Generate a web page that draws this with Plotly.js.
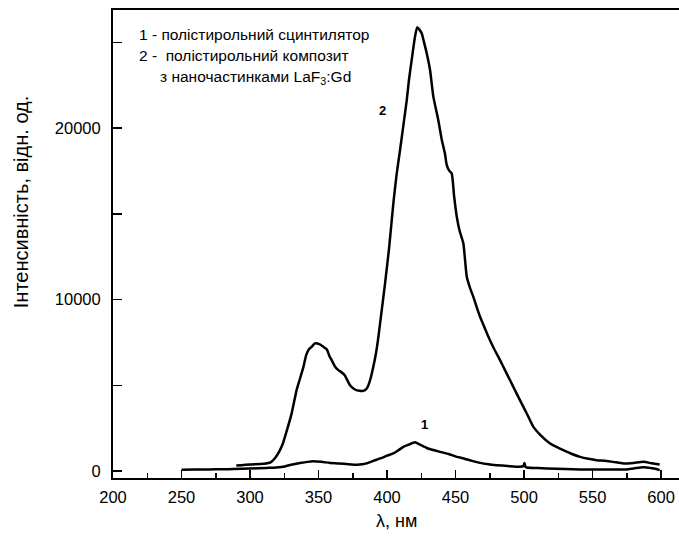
<!DOCTYPE html>
<html>
<head>
<meta charset="utf-8">
<script src="https://cdn.plot.ly/plotly-3.0.1.min.js"></script>
<style>html,body{margin:0;padding:0;background:#fff;}#chart{width:679px;height:539px;}</style>
</head>
<body>
<div id="chart"></div>
<script>
// Curve 1: polystyrene scintillator
const lambda1 = [250,260,270,280,287.8,300,312,317,324,330,336.5,342,346.2,352,358.4,365,372,378,382,385,390,395,400,404.6,408,412,416,420.4,424,429,433,438.7,445,450.9,456,462,468,474,480,488,497,499.5,500.3,501,502,510,516.6,530,541,555,565,575,580,584.7,588,592,596,599];
const intensity1 = [80,90,100,110,120,150,190,200,250,370,470,540,570,540,480,450,400,370,400,450,600,740,900,1030,1200,1420,1550,1680,1550,1350,1250,1125,1000,834,740,600,480,400,350,300,250,300,480,260,215,180,157,130,100,100,100,100,150,215,230,190,140,60];
// Curve 2: polystyrene composite with LaF3:Gd nanoparticles
const lambda2 = [290,300,310,315,318,321,324,327,330.4,334,336.5,339,341,343,345,347.4,351,353.5,356,358,359.6,362,364.5,367,369,371,373,376.6,380,382.7,385,386.4,388,390,392,393.7,396,398.5,401.5,404.6,407,409.5,412,414.4,416,418,420.4,422,423.5,425.3,427,429,431.4,433.8,437.4,440,442.3,443.6,445.5,447.2,449,450.9,453,455.7,458.2,460.5,463,465.5,467.9,471,474,478,482.5,486,489.8,493.5,497,502,506.8,512,519,524,528.7,535,540.9,547,553,559,565,572.5,580,587,593,599];
const intensity2 = [330,390,430,510,740,1100,1615,2400,3365,4720,5400,6080,6760,7100,7250,7450,7390,7250,7100,6700,6470,6100,5890,5750,5600,5300,5010,4760,4680,4680,4800,5010,5400,6080,6900,7830,9300,10900,13000,15600,17300,18720,20200,21630,22800,23970,25320,25870,25750,25520,25000,24350,23380,21830,20470,19300,18500,17840,17500,17360,16000,14830,14000,13280,11330,10700,10160,9550,9000,8400,7830,7150,6470,5900,5300,4700,4140,3360,2580,2100,1615,1400,1225,1000,834,720,640,600,540,450,480,540,460,390];

const legendLines = ['1 - полістирольний сцинтилятор', '2 -  полістирольний композит', 'з наночастинками LaF<sub>3</sub>:Gd'];
const curveLabels = ['1', '2'];
const curveLabelPos = [[427, 2740], [397, 21000]];
const xTitle = 'λ, нм';
const yTitle = 'Інтенсивність, відн. од.';

const lineStyle = {color: '#000', width: 2.5, shape: 'spline', smoothing: 0.5};
const traces = [
  {x: lambda1, y: intensity1, mode: 'lines', line: lineStyle, hoverinfo: 'skip'},
  {x: lambda2, y: intensity2, mode: 'lines', line: lineStyle, hoverinfo: 'skip'}
];

const font = {family: 'Liberation Sans, Arial, sans-serif', color: '#000'};
const f = (s) => Object.assign({size: s}, font);
const annotations = [
  {xref: 'paper', yref: 'paper', x: 0.043, y: 0.948, xanchor: 'left', yanchor: 'middle', text: legendLines[0], showarrow: false, font: f(15.5)},
  {xref: 'paper', yref: 'paper', x: 0.043, y: 0.902, xanchor: 'left', yanchor: 'middle', text: legendLines[1], showarrow: false, font: f(15.5)},
  {xref: 'paper', yref: 'paper', x: 0.08, y: 0.855, xanchor: 'left', yanchor: 'middle', text: legendLines[2], showarrow: false, font: f(15.5)},
  {x: curveLabelPos[0][0], y: curveLabelPos[0][1], text: '<b>' + curveLabels[0] + '</b>', showarrow: false, font: f(13)},
  {x: curveLabelPos[1][0], y: curveLabelPos[1][1], text: '<b>' + curveLabels[1] + '</b>', showarrow: false, font: f(13)},
  // axis titles placed as paper annotations
  {xref: 'paper', yref: 'paper', x: -0.162, y: 0.59, xanchor: 'center', yanchor: 'middle', textangle: -90, text: yTitle, showarrow: false, font: f(20)},
  {xref: 'paper', yref: 'paper', x: 0.5, y: -0.092, xanchor: 'center', yanchor: 'middle', text: xTitle, showarrow: false, font: f(18)}
];

const layout = {
  width: 679, height: 539,
  margin: {l: 113, r: 0, t: 10, b: 61, pad: 0},
  paper_bgcolor: '#fff', plot_bgcolor: '#fff',
  showlegend: false,
  font: f(16),
  xaxis: {
    range: [200, 613.1], dtick: 50, tick0: 200,
    ticks: 'inside', ticklen: 8, tickwidth: 1.5, tickcolor: '#000',
    minor: {dtick: 25, ticks: 'inside', ticklen: 5, tickwidth: 1.5, tickcolor: '#000'},
    showline: true, linewidth: 2, linecolor: '#000', mirror: true,
    showgrid: false, zeroline: false,
    tickfont: f(16.5),
    ticklabelstandoff: 3
  },
  yaxis: {
    range: [-400, 26880], dtick: 10000, tick0: 0, tickformat: 'd',
    ticks: 'inside', ticklen: 9, tickwidth: 1.5, tickcolor: '#000',
    minor: {dtick: 5000, ticks: 'inside', ticklen: 9, tickwidth: 1.5, tickcolor: '#000'},
    showline: true, linewidth: 2, linecolor: '#000',
    showgrid: false, zeroline: false,
    tickfont: f(16.5),
    ticklabelstandoff: 7
  },
  annotations: annotations
};

Plotly.newPlot('chart', traces, layout, {staticPlot: true, displayModeBar: false});
</script>
</body>
</html>
